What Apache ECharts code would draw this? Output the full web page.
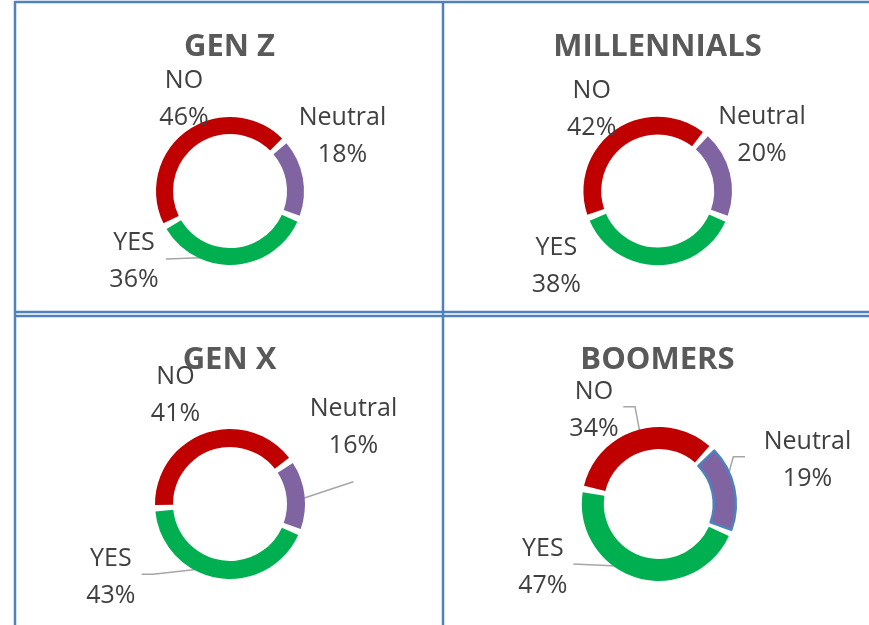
<!DOCTYPE html>
<html>
<head>
<meta charset="utf-8">
<script src="https://cdn.jsdelivr.net/npm/echarts@6/dist/echarts.min.js"></script>
<style>
html,body{margin:0;padding:0;background:#fff;}
#chart{width:869px;height:625px;}
</style>
</head>
<body>
<div id="chart"></div>
<script>
// ---- data ----
const categories = ['YES', 'NO', 'Neutral'];
const groups = ['GEN Z', 'MILLENNIALS', 'GEN X', 'BOOMERS'];
const genZ = [36, 46, 18];
const millennials = [38, 42, 20];
const genX = [43, 41, 16];
const boomers = [47, 34, 19];
const seriesValues = [genZ, millennials, genX, boomers];

// ---- style / layout ----
const colors = ['#00B050', '#C00000', '#8064A2'];
const panels = [
  { cx: 230, cy: 191, r: [57, 74], tx: 229.5, ty: 44.7 },
  { cx: 657.7, cy: 191, r: [56.5, 74.3], tx: 657.5, ty: 44.7 },
  { cx: 230, cy: 504, r: [57, 75], tx: 229.5, ty: 358 },
  { cx: 658.8, cy: 504, r: [55, 77], tx: 657.5, ty: 358 }
];
// label offsets relative to pie centre, per panel, per category (YES, NO, Neutral)
const labelOffsets = [
  [{ d: [-96, 70], line: [[-64, 68], [-2, 65.7]] }, { d: [-46, -92] }, { d: [112.5, -54.5] }],
  [{ d: [-101.4, 75.7] }, { d: [-66, -81.5] }, { d: [104.3, -56] }],
  [{ d: [-119.2, 73], line: [[-88.3, 70.3], [-77, 70.3], [-18.3, 63.7]] }, { d: [-54.5, -108.2] }, { d: [123.5, -76.5], line: [[123.3, -22.3], [66, -3.3]] }],
  [{ d: [-116, 63], line: [[-85.5, 60], [-25.5, 62.7]] }, { d: [-64.8, -94], line: [[-35.5, -97.3], [-23.8, -97.3], [-17.8, -65.7]] }, { d: [148.7, -44], line: [[86.2, -47.3], [74.5, -47.3], [64.5, -10.7]] }]
];

const chart = echarts.init(document.getElementById('chart'), null, { renderer: 'canvas' });

const series = seriesValues.map((vals, si) => {
  const p = panels[si];
  return {
    type: 'pie',
    name: groups[si],
    center: [p.cx, p.cy],
    radius: p.r,
    startAngle: -22,
    clockwise: true,
    padAngle: 5,
    avoidLabelOverlap: false,
    silent: true,
    animation: false,
    emphasis: { disabled: true },
    label: {
      show: true,
      position: 'outside',
      formatter: '{b}\n{c}%',
      fontFamily: '"Open Sans", sans-serif',
      fontSize: 25,
      lineHeight: 37,
      color: '#404040',
      align: 'center'
    },
    labelLine: { show: true, lineStyle: { color: '#A6A6A6', width: 1.5 }, length: 5, length2: 5 },
    labelLayout: function (params) {
      const o = labelOffsets[si][params.dataIndex];
      const res = {
        x: p.cx + o.d[0],
        y: p.cy + o.d[1],
        align: 'center',
        verticalAlign: 'middle'
      };
      if (o.line) {
        res.labelLinePoints = o.line.map(pt => [p.cx + pt[0], p.cy + pt[1]]);
      }
      return res;
    },
    data: vals.map((v, i) => {
      const item = {
        name: categories[i],
        value: v,
        itemStyle: { color: colors[i] },
        labelLine: { show: !!labelOffsets[si][i].line }
      };
      if (si === 3 && i === 2) {
        item.itemStyle.borderColor = '#4F81BD';
        item.itemStyle.borderWidth = 2.5;
      }
      return item;
    })
  };
});

const titles = groups.map((g, i) => ({
  text: g,
  left: panels[i].tx,
  top: panels[i].ty - 13,
  textAlign: 'center',
  padding: 0,
  textStyle: {
    fontFamily: '"Open Sans", sans-serif',
    fontWeight: 'bold',
    fontSize: 31,
    color: '#595959'
  }
}));

const borderColor = '#4F81BD';
const lines = [
  [15, 2, 869, 2],
  [15, 312, 869, 312],
  [15, 316, 869, 316],
  [15, 1, 15, 625],
  [443, 1, 443, 625]
];

chart.setOption({
  backgroundColor: '#ffffff',
  animation: false,
  title: titles,
  graphic: lines.map(l => ({
    type: 'line',
    silent: true,
    z: 0,
    shape: { x1: l[0], y1: l[1], x2: l[2], y2: l[3] },
    style: { stroke: borderColor, lineWidth: 2.5 }
  })),
  series: series
});
</script>
</body>
</html>
